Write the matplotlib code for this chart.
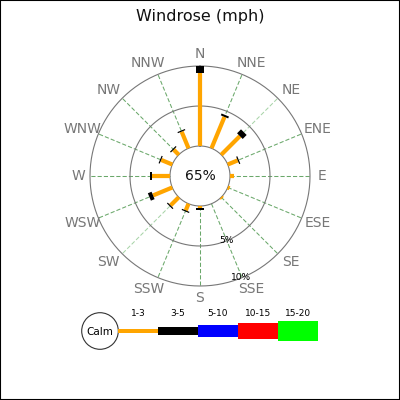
import numpy as np
import matplotlib
matplotlib.use("Agg")
import matplotlib.pyplot as plt
from matplotlib.patches import Circle, Rectangle

# --- data (percent of observations) ---
directions = ["N", "NNE", "NE", "ENE", "E", "ESE", "SE", "SSE",
              "S", "SSW", "SW", "WSW", "W", "WNW", "NW", "NNW"]
spd_1_3 = [9.1, 4.25, 3.3, 1.35, 0.45, 0.25, 0.2, 0.0,
           0.3, 0.9, 1.45, 2.6, 2.2, 1.5, 0.9, 2.25]
spd_3_5 = [0.9, 0.25, 0.7, 0.15, 0.0, 0.0, 0.0, 0.0,
           0.25, 0.15, 0.15, 0.5, 0.3, 0.15, 0.15, 0.15]
calm_pct = 65
ring_pcts = [5, 10]
speed_labels = ["1-3", "3-5", "5-10", "10-15", "15-20"]
speed_colors = ["#ffa500", "#000000", "#0000ff", "#ff0000", "#00ff00"]

PX = 72 / 100  # points per pixel at dpi 100
CALM_R = 3.75  # calm hole radius in % units (30 px at 8 px per %)

fig = plt.figure(figsize=(4, 4), dpi=100)
fig.patch.set_facecolor("white")
fig.patches.append(Rectangle((0, 0), 1, 1, transform=fig.transFigure,
                             fill=False, edgecolor="black", linewidth=1.5))
fig.text(0.5, 1 - 17 / 400, "Windrose (mph)", ha="center", va="center",
         fontsize=11.5, color="#111111")

# --- rose ---
ax = fig.add_axes([0.225, 0.285, 0.55, 0.55], projection="polar")
ax.set_theta_zero_location("N")
ax.set_theta_direction(-1)
ax.set_rorigin(-CALM_R)
ax.set_ylim(0, 10)
ax.axis("off")

theta = np.deg2rad(np.arange(16) * 22.5)
full = np.linspace(0, 2 * np.pi, 361)
for r in [0] + ring_pcts:
    ax.plot(full, np.full_like(full, r), color="#777777", lw=0.8, zorder=2,
            clip_on=False)

for i, t in enumerate(theta):
    col = "#a9d4a9" if directions[i] in ("NE", "SW") else "#6aa86a"
    ax.plot([t, t], [0, 10], color=col, lw=0.75, ls=(0, (4, 2)), zorder=1,
            clip_on=False)

for i, t in enumerate(theta):
    c1 = spd_1_3[i]
    c2 = c1 + spd_3_5[i]
    if c1 > 0:
        ax.plot([t, t], [0, c1], color=speed_colors[0], lw=4.2 * PX,
                solid_capstyle="butt", zorder=3, clip_on=False)
    if spd_3_5[i] > 0:
        ax.plot([t, t], [c1, c2], color=speed_colors[1], lw=8 * PX,
                solid_capstyle="butt", zorder=4, clip_on=False)

# direction labels: ~122 px out, diagonal ones pushed a little sideways
for i, t in enumerate(theta):
    s = np.sin(t)
    dx = 0 if abs(s) > 0.99 or abs(s) < 0.01 else 5 * np.sign(s)
    ax.annotate(directions[i], xy=(t, 11.5), xytext=(dx * PX, 0),
                textcoords="offset points", ha="center", va="center",
                fontsize=10, color="#777777", annotation_clip=False)

lab_t = np.deg2rad(158)
for r in ring_pcts:
    ax.text(lab_t, r, f"{r}%", ha="center", va="center", fontsize=6.5,
            color="black", zorder=5, clip_on=False)

ax.text(0.5, 0.5, f"{calm_pct}%", transform=ax.transAxes, ha="center",
        va="center", fontsize=10, color="#111111")

# --- legend (pixel coordinates) ---
lg = fig.add_axes([0, 0, 1, 1])
lg.set_xlim(0, 400)
lg.set_ylim(400, 0)
lg.axis("off")
lg.patch.set_alpha(0)

cy = 331
lg.add_patch(Circle((100, cy), 18.3, fill=False, edgecolor="#333333", lw=0.8))
lg.text(100, cy + 1, "Calm", ha="center", va="center", fontsize=7.5)

seg_w = 40
x0 = 118.3
for i, (lab, col) in enumerate(zip(speed_labels, speed_colors)):
    left = x0 if i == 0 else 158 + (i - 1) * seg_w
    right = 158 + i * seg_w
    thick = 4 * (i + 1)
    if i == 0:
        lg.plot([left, right], [cy, cy], color=col, lw=thick * PX,
                solid_capstyle="butt")
    else:
        lg.add_patch(Rectangle((left, cy - thick / 2), seg_w, thick,
                               facecolor=col, edgecolor="none"))
    lg.text(138 + i * seg_w, 313.5, lab, ha="center", va="center",
            fontsize=6.5)

fig.savefig("out.png", dpi=100)
